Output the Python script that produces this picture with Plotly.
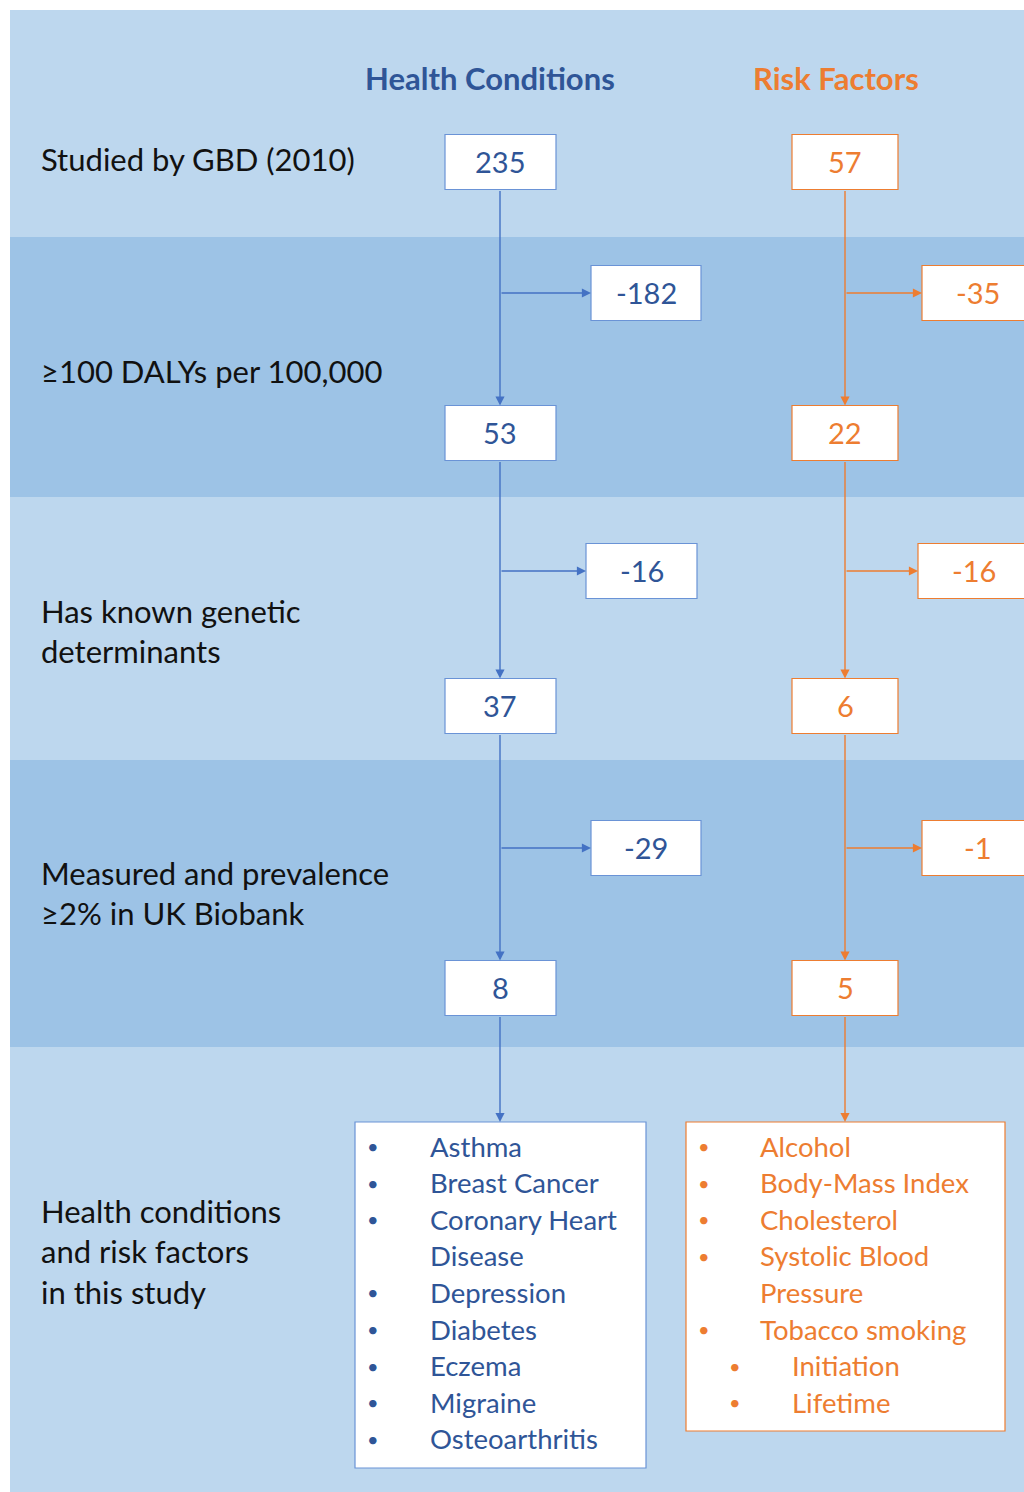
import plotly.graph_objects as go

# ---------------- data ----------------
stage_labels = [
    "Studied by GBD (2010)",
    "≥100 DALYs per 100,000",
    "Has known genetic<br>determinants",
    "Measured and prevalence<br>≥2% in UK Biobank",
    "Health conditions<br>and risk factors<br>in this study",
]
column_titles = ["Health Conditions", "Risk Factors"]
health_counts = [235, 53, 37, 8]
health_removed = [-182, -16, -29]
risk_counts = [57, 22, 6, 5]
risk_removed = [-35, -16, -1]
health_list = ["Asthma", "Breast Cancer", "Coronary Heart", "Disease", "Depression",
               "Diabetes", "Eczema", "Migraine", "Osteoarthritis"]
health_bullet = [True, True, True, False, True, True, True, True, True]
risk_list = ["Alcohol", "Body-Mass Index", "Cholesterol", "Systolic Blood", "Pressure",
             "Tobacco smoking", "Initiation", "Lifetime"]
risk_level = [1, 1, 1, 1, 0, 1, 2, 2]  # 0 = continuation, 1 = bullet, 2 = sub-bullet

# ---------------- styles / layout ----------------
FONT = "Lato, 'Open Sans', sans-serif"
LIGHT = "#BDD7EE"
DARK = "#9DC3E6"
BLUE_LINE = "#4472C4"
BLUE_BOX = "#6A93D6"
BLUE_TEXT = "#2F5597"
ORANGE = "#ED7D31"
BLACK = "#111111"

W, H = 1024, 1492
bands = [(10, 237, LIGHT), (237, 497, DARK), (497, 760, LIGHT), (760, 1047, DARK), (1047, 1492, LIGHT)]
label_y = [159, 371, 631, 893, 1251]
count_y = [162, 433, 706, 988]
removed_y = [293, 571, 848]
box_h = 55

cols = [
    dict(cx=500, bx=(445, 556), rem_x=[(591, 701), (586, 697), (591, 701)],
         counts=health_counts, removed=health_removed, line=BLUE_LINE, box=BLUE_BOX,
         text=BLUE_TEXT, title_x=490),
    dict(cx=845, bx=(792, 898), rem_x=[(922, 1040), (918, 1040), (922, 1040)],
         counts=risk_counts, removed=risk_removed, line=ORANGE, box=ORANGE,
         text=ORANGE, title_x=836),
]

shapes = []
annotations = []

for y0, y1, c in bands:
    shapes.append(dict(type="rect", xref="x", yref="y", x0=10, x1=W + 5, y0=y0, y1=y1,
                       fillcolor=c, line=dict(width=0), layer="below"))

for lbl, y in zip(stage_labels, label_y):
    annotations.append(dict(x=39, y=y, xref="x", yref="y", text=lbl, showarrow=False,
                            xanchor="left", yanchor="middle", align="left",
                            font=dict(family=FONT, size=31, color=BLACK)))

for col, title in zip(cols, column_titles):
    annotations.append(dict(x=col["title_x"], y=78, xref="x", yref="y",
                            text="<b>" + title + "</b>", showarrow=False,
                            xanchor="center", yanchor="middle",
                            font=dict(family=FONT, size=31, color=col["text"])))

def arrow(x0, y0, x1, y1, color):
    annotations.append(dict(x=x1, y=y1, ax=x0, ay=y0, xref="x", yref="y", axref="x", ayref="y",
                            text="", showarrow=True, arrowhead=2, arrowsize=1.3,
                            arrowwidth=1.4, arrowcolor=color, standoff=0))

list_top = 1122
for col in cols:
    cx = col["cx"]
    bx0, bx1 = col["bx"]
    for i, (v, y) in enumerate(zip(col["counts"], count_y)):
        shapes.append(dict(type="rect", xref="x", yref="y", x0=bx0, x1=bx1,
                           y0=y - box_h / 2, y1=y + box_h / 2, fillcolor="white",
                           line=dict(color=col["box"], width=1.2), layer="above"))
        annotations.append(dict(x=cx, y=y - 1, xref="x", yref="y", text=str(v), showarrow=False,
                                xanchor="center", yanchor="middle",
                                font=dict(family=FONT, size=29, color=col["text"])))
        next_y = count_y[i + 1] - box_h / 2 if i + 1 < len(count_y) else list_top
        arrow(cx, y + box_h / 2, cx, next_y, col["line"])
    for (rx0, rx1), v, y in zip(col["rem_x"], col["removed"], removed_y):
        shapes.append(dict(type="rect", xref="x", yref="y", x0=rx0, x1=rx1,
                           y0=y - box_h / 2, y1=y + box_h / 2, fillcolor="white",
                           line=dict(color=col["box"], width=1.2), layer="above"))
        tx = (rx0 + rx1) / 2 if rx1 <= W else rx0 + 56
        annotations.append(dict(x=tx, y=y - 1, xref="x", yref="y", text=str(v), showarrow=False,
                                xanchor="center", yanchor="middle",
                                font=dict(family=FONT, size=29, color=col["text"])))
        arrow(cx, y, rx0, y, col["line"])

# list boxes
shapes.append(dict(type="rect", xref="x", yref="y", x0=355, x1=646, y0=list_top, y1=1468,
                   fillcolor="white", line=dict(color=BLUE_BOX, width=1.2), layer="above"))
shapes.append(dict(type="rect", xref="x", yref="y", x0=686, x1=1005, y0=list_top, y1=1431,
                   fillcolor="white", line=dict(color=ORANGE, width=1.2), layer="above"))

line_y0, line_dy = 1146, 36.6
for i, (item, b) in enumerate(zip(health_list, health_bullet)):
    y = line_y0 + i * line_dy
    if b:
        annotations.append(dict(x=373, y=y, xref="x", yref="y", text="•", showarrow=False,
                                xanchor="center", yanchor="middle",
                                font=dict(family=FONT, size=20, color=BLUE_TEXT)))
    annotations.append(dict(x=428, y=y, xref="x", yref="y", text=item, showarrow=False,
                            xanchor="left", yanchor="middle",
                            font=dict(family=FONT, size=27.5, color=BLUE_TEXT)))

for i, (item, lvl) in enumerate(zip(risk_list, risk_level)):
    y = line_y0 + i * line_dy
    bxp, txp = (735, 790) if lvl == 2 else (704, 758)
    if lvl > 0:
        annotations.append(dict(x=bxp, y=y, xref="x", yref="y", text="•", showarrow=False,
                                xanchor="center", yanchor="middle",
                                font=dict(family=FONT, size=20, color=ORANGE)))
    annotations.append(dict(x=txp, y=y, xref="x", yref="y", text=item, showarrow=False,
                            xanchor="left", yanchor="middle",
                            font=dict(family=FONT, size=27.5, color=ORANGE)))

fig = go.Figure()
fig.update_layout(
    width=W, height=H, margin=dict(l=0, r=0, t=0, b=0),
    paper_bgcolor="white", plot_bgcolor="white",
    xaxis=dict(range=[0, W], visible=False, fixedrange=True),
    yaxis=dict(range=[H, 0], visible=False, fixedrange=True),
    shapes=shapes, annotations=annotations, showlegend=False,
)
fig.write_html("out.html", config={"displayModeBar": False},
               post_script="document.body.style.margin='0';document.body.style.overflow='hidden';")
